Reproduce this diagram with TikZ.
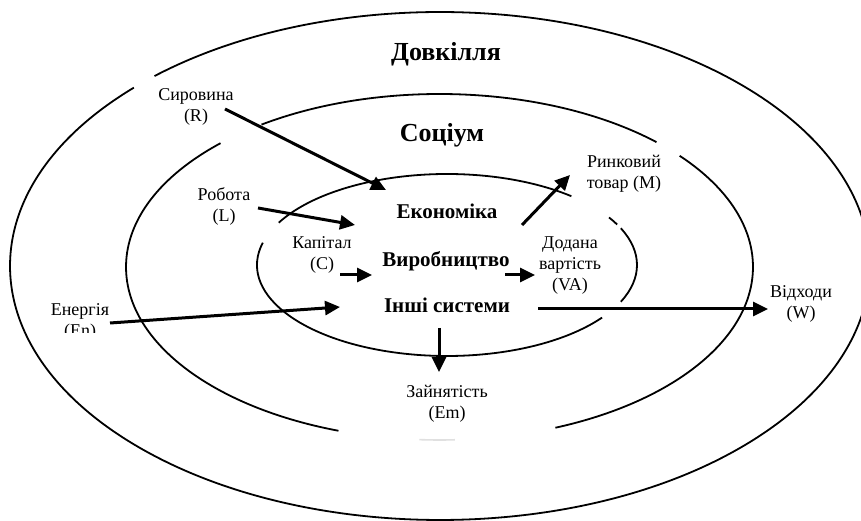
\documentclass[tikz,border=0pt]{standalone}
\usepackage{fontspec}
\setmainfont{Liberation Serif}
\usetikzlibrary{arrows.meta}
\tikzset{
  ring/.style={line width=1.8pt, black},
  faintring/.style={line width=1.6pt, black!12},
  flow/.style={line width=3pt, -{Triangle[length=15pt,width=14pt]}},
  big/.style={font=\fontsize{26}{30}\selectfont\bfseries, inner sep=0pt},
  mid/.style={font=\fontsize{21}{25}\selectfont\bfseries, inner sep=0pt},
  lbl/.style={font=\fontsize{18}{21}\selectfont, align=center, inner sep=0pt},
}
\begin{document}
\begin{tikzpicture}[x=1pt,y=1pt]
\useasboundingbox (0,0) rectangle (861,521);
\clip (0,0) rectangle (861,521);
\fill[white] (0,0) rectangle (861,521);

% outer ring (Довкілля)
\coordinate (oc) at (440,255);
\draw[ring] (oc) ++(135.4:430pt and 254pt) arc[start angle=135.4, end angle=491.6, x radius=430pt, y radius=254pt];

% middle ring (Соціум)
\coordinate (mc) at (439.5,254);
\draw[ring] (mc) ++(46.2:313.5pt and 173pt) arc[start angle=46.2, end angle=124.6, x radius=313.5pt, y radius=173pt];
\draw[ring] (mc) ++(134.3:313.5pt and 173pt) arc[start angle=134.3, end angle=251.2, x radius=313.5pt, y radius=173pt];
\draw[ring] (mc) ++(291.7:313.5pt and 173pt) arc[start angle=291.7, end angle=400, x radius=313.5pt, y radius=173pt];
\draw[faintring] (mc) ++(266.3:313.5pt and 173pt) arc[start angle=266.3, end angle=272.8, x radius=313.5pt, y radius=173pt];

% inner ring (Економіка)
\coordinate (ic) at (447,256);
\draw[ring] (ic) ++(165.8:190pt and 91pt) arc[start angle=165.8, end angle=324.7, x radius=190pt, y radius=91pt];
\draw[ring] (ic) ++(-23.8:190pt and 91pt) arc[start angle=-23.8, end angle=23.8, x radius=190pt, y radius=91pt];
\draw[ring] (ic) ++(26.4:190pt and 91pt) arc[start angle=26.4, end angle=31.5, x radius=190pt, y radius=91pt];
\draw[ring] (ic) ++(49.1:190pt and 91pt) arc[start angle=49.1, end angle=152.3, x radius=190pt, y radius=91pt];

% titles
\node[big, anchor=base] (env) at (446,460) {Довкілля};
\node[big, anchor=base] (soc) at (442,379) {Соціум};
\node[mid, anchor=base] (eco) at (447,302) {Економіка};
\node[mid, anchor=base] (prod) at (446,254) {Виробництво};
\node[mid, anchor=base] (other) at (447,208) {Інші системи};

% labels
\node[lbl] (raw) at (196,414) {Сировина\\(R)};
\node[lbl] (lab) at (224,315) {Робота\\(L)};
\node[lbl] (cap) at (322,266) {Капітал\\(C)};
\node[lbl] (va) at (570,255.5) {Додана\\вартість\\(VA)};
\node[lbl] (mkt) at (624,347.5) {Ринковий\\товар (M)};
\begin{scope}
\clip (0,188) rectangle (200,300);
\node[lbl] (en) at (80,199.5) {Енергія\\(En)};
\end{scope}
\node[lbl] (waste) at (801,217.5) {Відходи\\(W)};
\node[lbl] (emp) at (447,117.5) {Зайнятість\\(Em)};

% arrow end points
\coordinate (rawS) at (225,412);  \coordinate (rawT) at (386,331);
\coordinate (labS) at (258,313);  \coordinate (labT) at (355,296);
\coordinate (capS) at (340,246);  \coordinate (capT) at (372,246);
\coordinate (prodS) at (505,246); \coordinate (prodT) at (535,246);
\coordinate (enS) at (110,198);   \coordinate (enT) at (340,214);
\coordinate (wS) at (538,212);    \coordinate (wT) at (768,212);
\coordinate (emS) at (439,193);   \coordinate (emT) at (439,149);
\coordinate (mS) at (522,296);    \coordinate (mT) at (570,346);

\draw[flow] (rawS) -- (rawT);
\draw[flow] (labS) -- (labT);
\draw[flow] (capS) -- (capT);
\draw[flow] (prodS) -- (prodT);
\draw[flow] (enS) -- (enT);
\draw[flow] (wS) -- (wT);
\draw[flow] (emS) -- (emT);
\draw[flow] (mS) -- (mT);
\end{tikzpicture}
\end{document}
